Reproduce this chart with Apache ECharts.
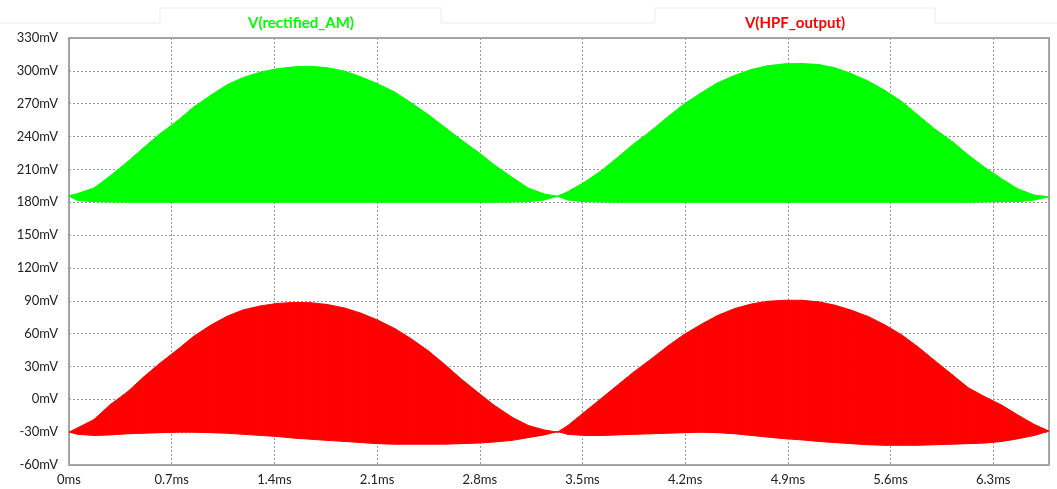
<!DOCTYPE html>
<html>
<head>
<meta charset="utf-8">
<script src="https://cdn.jsdelivr.net/npm/echarts@6/dist/echarts.min.js"></script>
<style>
  html, body { margin: 0; padding: 0; background: #fff; }
  #main { width: 1057px; height: 489px; }
</style>
</head>
<body>
<div id="main"></div>
<script>
// time samples (ms)
var timeMs = [0, 0.06, 0.17, 0.28, 0.40, 0.51, 0.62, 0.74, 0.85, 0.97, 1.08, 1.19, 1.31, 1.42, 1.54, 1.65, 1.76, 1.88, 1.99, 2.10, 2.22, 2.33, 2.45, 2.56, 2.67, 2.79, 2.90, 3.02, 3.13, 3.24, 3.33,
  3.40, 3.51, 3.63, 3.74, 3.85, 3.97, 4.08, 4.19, 4.31, 4.42, 4.54, 4.65, 4.76, 4.88, 4.99, 5.11, 5.22, 5.33, 5.45, 5.56, 5.68, 5.79, 5.90, 6.02, 6.13, 6.24, 6.36, 6.47, 6.58, 6.68];

// V(rectified_AM) envelope (mV)
var amUpper = [186, 188, 193, 204, 217, 230, 242.5, 254.5, 267, 278, 287.5, 294, 299, 302, 303.7, 304.2, 302.8, 299.7, 294.5, 288.4, 280.7, 271, 260, 248.6, 237.3, 225.7, 214, 202.8, 193, 187.5, 185.5,
  189.6, 198, 209, 221, 233.3, 245.6, 257.8, 269.4, 280, 289, 296, 301.2, 304.6, 306.4, 306.7, 305.8, 302.8, 297.6, 290.5, 282.3, 271.6, 259.3, 247, 235.5, 223.2, 212, 201.2, 192, 186.5, 185];
var amLower = [185.5, 181.5, 180.5, 180.2, 180, 180, 180, 180, 180, 180, 180, 180, 180, 180, 180, 180, 180, 180, 180, 180, 180, 180, 180, 180, 180, 180, 180, 180.2, 180.5, 182, 185.5,
  182, 180.5, 180.2, 180, 180, 180, 180, 180, 180, 180, 180, 180, 180, 180, 180, 180, 180, 180, 180, 180, 180, 180, 180, 180, 180, 180.2, 180.5, 180.5, 182, 185];

// V(HPF_output) envelope (mV)
var hpfUpper = [-30, -26, -18.5, -5, 7, 20.5, 33, 45.5, 57.5, 68, 76, 81.8, 85.4, 87.6, 88.5, 88.2, 86.6, 83.3, 78.7, 72.6, 64.7, 55.5, 44.2, 32, 18.9, 6, -5.6, -16.3, -23.9, -28, -30,
  -24, -12, 1, 13, 25, 37, 48.5, 59, 68.5, 76.5, 83, 87, 89.5, 90.5, 90.5, 89, 86, 81.5, 75.5, 68, 58.5, 47.5, 35.5, 22.5, 10.5, 2.5, -5.5, -14.5, -23, -29];
var hpfLower = [-30, -32, -33, -32.5, -31.5, -31, -30.5, -30, -30, -30.5, -31, -32, -33, -34, -35.5, -36.5, -37.5, -38.5, -39.5, -40.5, -41, -41, -41, -41, -40.5, -40, -39, -37.5, -35, -32.5, -29.5,
  -32, -33, -33, -32.5, -32, -31.5, -31, -30.5, -30, -30.5, -31.5, -33, -34.5, -36, -37, -38.5, -39.5, -40.5, -41.5, -42, -42, -42, -41.5, -41, -40.5, -40, -38.5, -36, -33, -29];

var yTicks = { min: -60, max: 330, step: 30 };
var xTicks = { min: 0, max: 6.68, step: 0.7 };

// filled band between upper and lower envelope, one quad per sample step
function envSeries(name, color, up, lo) {
  var rows = timeMs.map(function (t, i) { return [t, up[i], lo[i]]; });
  return {
    name: name,
    type: "custom",
    silent: true,
    encode: { x: 0, y: [1, 2] },
    data: rows,
    renderItem: function (params, api) {
      var i = params.dataIndex;
      if (i >= rows.length - 1) return null;
      var a = rows[i], b = rows[i + 1];
      var pts = [
        api.coord([a[0], a[1]]),
        api.coord([b[0], b[1]]),
        api.coord([b[0], b[2]]),
        api.coord([a[0], a[2]])
      ];
      return {
        type: "polygon",
        shape: { points: pts },
        style: { fill: color, stroke: color, lineWidth: 1 }
      };
    }
  };
}

var myChart = echarts.init(document.getElementById("main"));
var labelFont = "Lato, 'DejaVu Sans', sans-serif";
var option = {
  animation: false,
  backgroundColor: "#fff",
  grid: {
    left: 69,
    right: 8,
    top: 38,
    bottom: 24,
    show: true,
    borderColor: "#a8a8a8",
    borderWidth: 2
  },
  graphic: [
    {
      type: "polyline",
      silent: true,
      shape: { points: [[0, 23], [160, 23], [160, 8], [441, 8], [441, 23], [655, 23], [655, 8], [935, 8], [935, 23], [1057, 23]] },
      style: { stroke: "#ececec", fill: null, lineWidth: 1 }
    },
    {
      type: "text",
      x: 301, y: 23,
      style: { text: "V(rectified_AM)", fill: "#00ff00", font: "bold 15px " + labelFont, textAlign: "center", textVerticalAlign: "middle" }
    },
    {
      type: "text",
      x: 795, y: 23,
      style: { text: "V(HPF_output)", fill: "#ff0000", font: "bold 15px " + labelFont, textAlign: "center", textVerticalAlign: "middle" }
    }
  ],
  xAxis: {
    type: "value",
    min: xTicks.min,
    max: xTicks.max,
    interval: xTicks.step,
    axisLine: { show: false },
    axisTick: { show: false },
    axisLabel: {
      showMaxLabel: false,
      margin: 8,
      color: "#222",
      fontSize: 13,
      fontFamily: labelFont,
      formatter: function (v) { return Number(v.toFixed(1)) + "ms"; }
    },
    splitLine: { show: true, lineStyle: { color: "#9a9a9a", type: [2, 2], width: 1 } }
  },
  yAxis: {
    type: "value",
    min: yTicks.min,
    max: yTicks.max,
    interval: yTicks.step,
    axisLine: { show: false },
    axisTick: { show: false },
    axisLabel: {
      margin: 11,
      color: "#222",
      fontSize: 13,
      fontFamily: labelFont,
      formatter: function (v) { return v + "mV"; }
    },
    splitLine: { show: true, lineStyle: { color: "#9a9a9a", type: [2, 2], width: 1 } }
  },
  series: [
    envSeries("V(rectified_AM)", "#00ff00", amUpper, amLower),
    envSeries("V(HPF_output)", "#ff0000", hpfUpper, hpfLower)
  ]
};
myChart.setOption(option);
window.addEventListener("resize", function () {
  myChart.resize();
});
</script>
</body>
</html>
